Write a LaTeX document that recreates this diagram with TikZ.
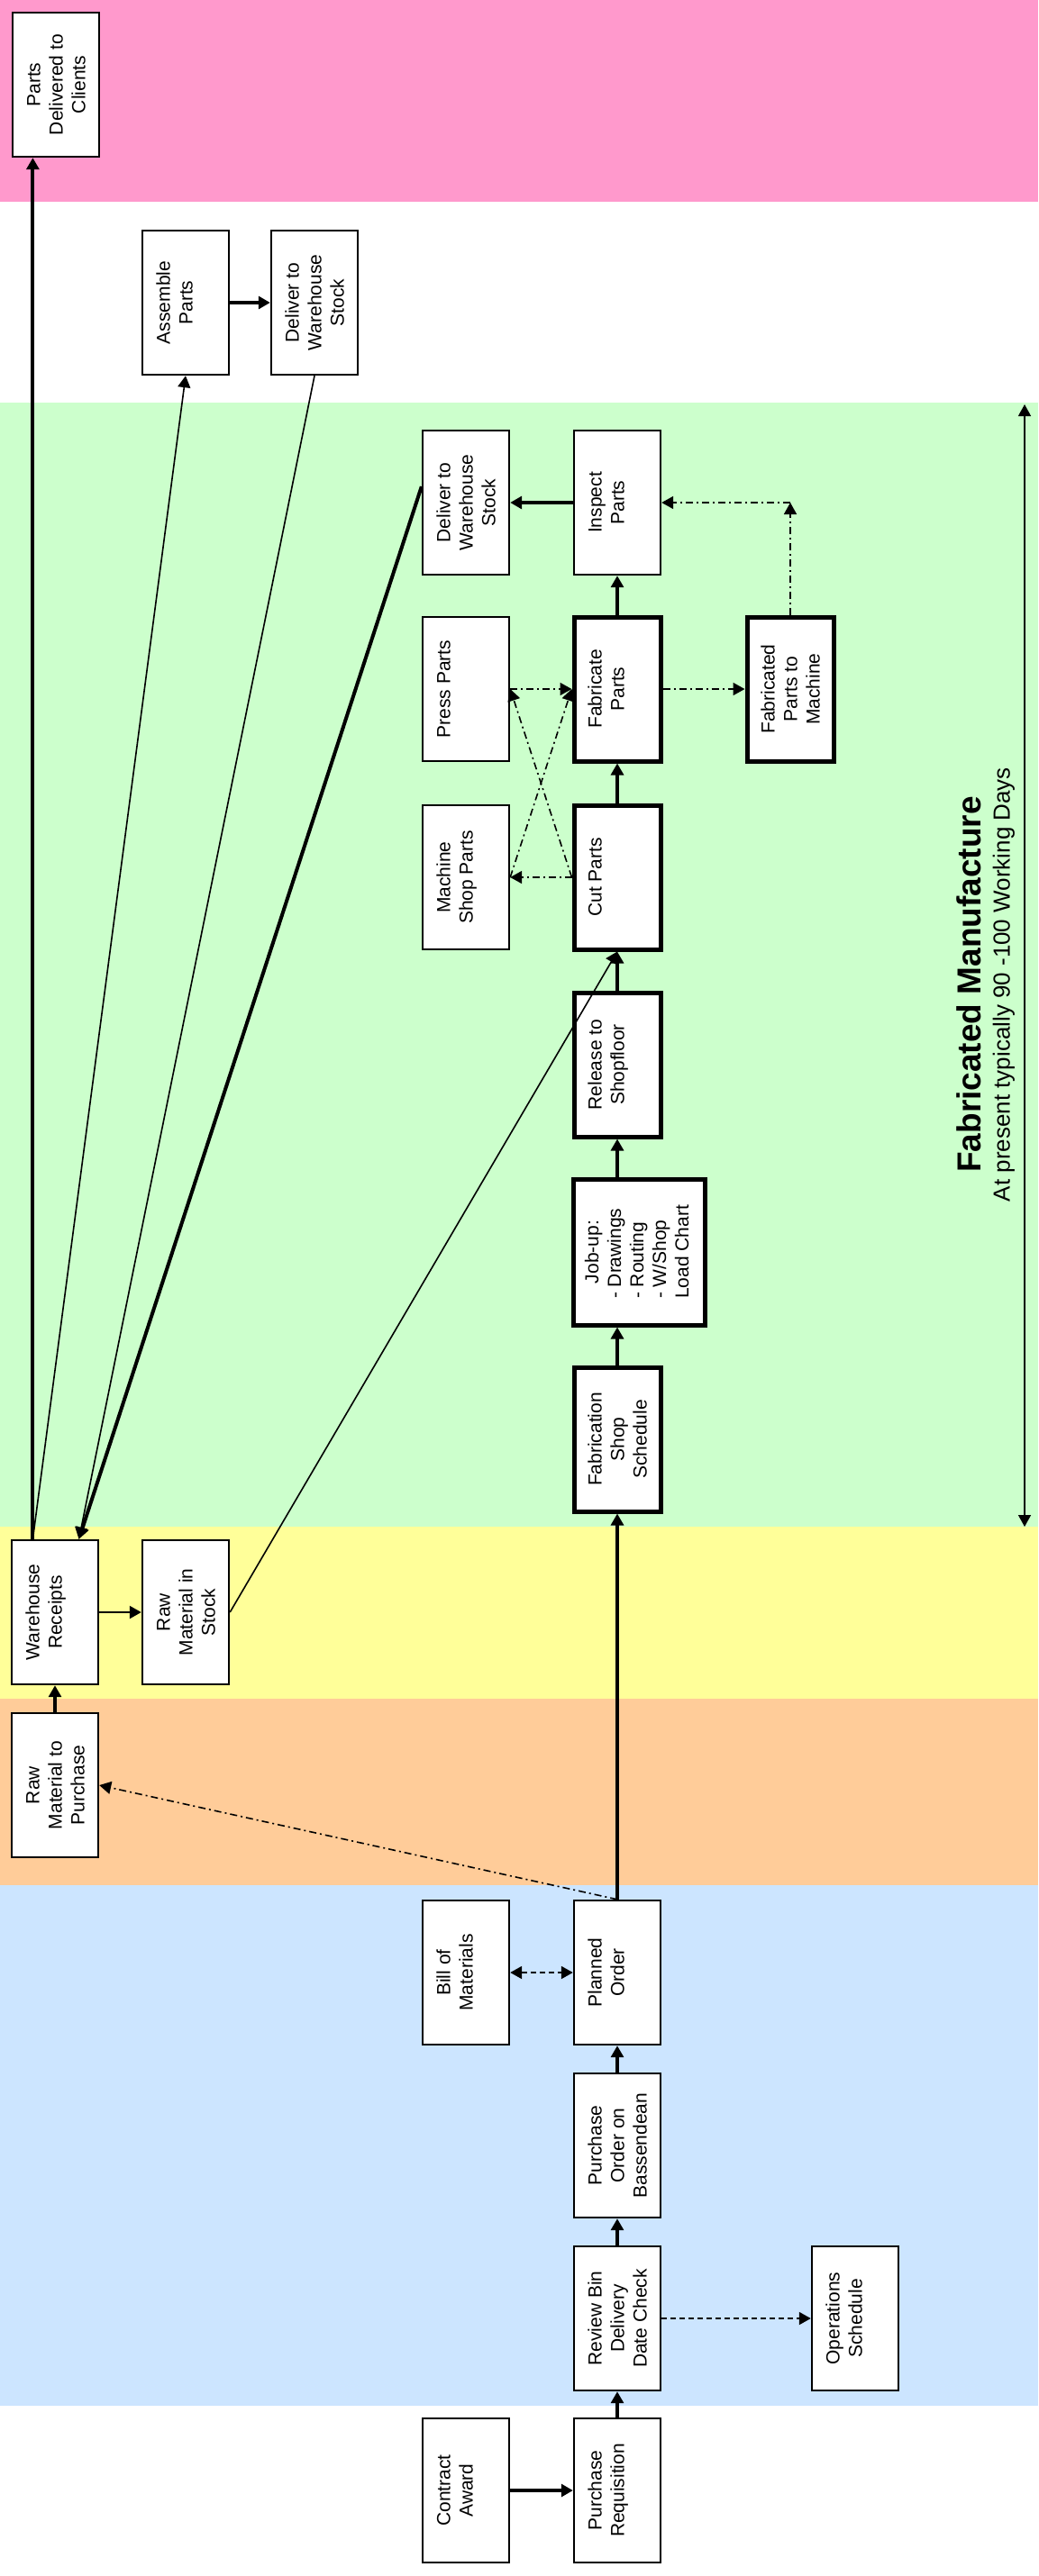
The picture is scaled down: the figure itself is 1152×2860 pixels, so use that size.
\documentclass[tikz,border=0pt]{standalone}
\usepackage{fontspec}
\setmainfont{Liberation Sans}
\usepackage{graphicx}
\usetikzlibrary{arrows.meta,calc,positioning}
\pgfdeclarelayer{background}
\pgfsetlayers{background,main}

\definecolor{bandpink}{HTML}{FF99CC}
\definecolor{bandgreen}{HTML}{CCFFCC}
\definecolor{bandyellow}{HTML}{FFFF99}
\definecolor{bandorange}{HTML}{FFCC99}
\definecolor{bandblue}{HTML}{CCE5FF}

\newcommand{\sidetext}[1]{\rotatebox{90}{\parbox[c][35pt][t]{76pt}{\centering\strut #1}}}

\tikzset{
  stepbox/.style={draw, fill=white, line width=1.2pt, minimum width=48pt, minimum height=80pt, inner sep=0pt},
  keybox/.style={stepbox, line width=2.5pt},
  mainflow/.style={->, line width=1.6pt},
  thinflow/.style={->, line width=0.8pt},
  chainflow/.style={->, line width=0.8pt, dash pattern=on 4pt off 2pt on 1pt off 2pt},
  dashflow/.style={->, line width=1pt, dash pattern=on 3pt off 2pt}
}

\begin{document}
\begin{tikzpicture}[x=0.5pt, y=-0.5pt, >={Triangle[length=6.5pt,width=7pt]}, font=\fontsize{10.5}{12.5}\selectfont]
      \useasboundingbox (0,0) rectangle (1152,2860);

      % stage bands
      \begin{pgfonlayer}{background}
        \fill[white] (0,0) rectangle (1152,2860);
        \fill[bandpink] (0,0) rectangle (1152,224);
        \fill[bandgreen] (0,447) rectangle (1152,1695);
        \fill[bandyellow] (0,1695) rectangle (1152,1886);
        \fill[bandorange] (0,1886) rectangle (1152,2093);
        \fill[bandblue] (0,2093) rectangle (1152,2671);
      \end{pgfonlayer}

      \node (pdc) [stepbox] at (62,94) {\sidetext{Parts\\Delivered to\\Clients}};
      \node (asm) [stepbox] at (206,336) {\sidetext{Assemble\\Parts}};
      \node (dwsA) [stepbox] at (349,336) {\sidetext{Deliver to\\Warehouse\\Stock}};
      \node (dwsB) [stepbox] at (517,558) {\sidetext{Deliver to\\Warehouse\\Stock}};
      \node (insp) [stepbox] at (685,558) {\sidetext{Inspect\\Parts}};
      \node (press) [stepbox] at (517,765) {\sidetext{Press Parts}};
      \node (fab) [keybox] at (685,765) {\sidetext{Fabricate\\Parts}};
      \node (fpm) [keybox] at (877,765) {\sidetext{Fabricated\\Parts to\\Machine}};
      \node (msp) [stepbox] at (517,974) {\sidetext{Machine\\Shop Parts}};
      \node (cut) [keybox] at (685,974) {\sidetext{Cut Parts}};
      \node (rel) [keybox] at (685,1182) {\sidetext{Release to\\Shopfloor}};
      \node (job) [keybox, minimum width=73pt, minimum height=81pt] at (709,1390)
        {\rotatebox{90}{\begin{tabular}{@{}l@{}}\multicolumn{1}{@{}c@{}}{Job-up:}\\- Drawings\\- Routing\\- W/Shop\\Load Chart\end{tabular}}};
      \node (fss) [keybox] at (685,1598) {\sidetext{Fabrication\\Shop\\Schedule}};
      \node (wr) [stepbox] at (61,1790) {\sidetext{Warehouse\\Receipts}};
      \node (rms) [stepbox] at (206,1790) {\sidetext{Raw\\Material in\\Stock}};
      \node (rmp) [stepbox] at (61,1982) {\sidetext{Raw\\Material to\\Purchase}};
      \node (bom) [stepbox] at (517,2190) {\sidetext{Bill of\\Materials}};
      \node (po) [stepbox] at (685,2190) {\sidetext{Planned\\Order}};
      \node (pob) [stepbox] at (685,2382) {\sidetext{Purchase\\Order on\\Bassendean}};
      \node (rev) [stepbox] at (685,2574) {\sidetext{Review Bin\\Delivery\\Date Check}};
      \node (ops) [stepbox] at (949,2574) {\sidetext{Operations\\Schedule}};
      \node (ca) [stepbox] at (517,2765) {\sidetext{Contract\\Award}};
      \node (preq) [stepbox] at (685,2765) {\sidetext{Purchase\\Requisition}};

      \node (title) [rotate=90, inner sep=0pt, font=\fontsize{18.5}{22}\selectfont\bfseries] at (1075,1093) {Fabricated Manufacture};
      \node (subtitle) [rotate=90, inner sep=0pt, font=\fontsize{13}{15}\selectfont] at (1114,1093) {At present typically 90 -100 Working Days};

      \coordinate (wrout) at ($(wr.north west)!0.25!(wr.north east)$);
      \coordinate (wrin) at ($(wr.north west)!0.77!(wr.north east)$);
      \coordinate (dwsout) at ($(dwsB.north west)!0.39!(dwsB.south west)$);
      \coordinate (bend) at (fpm.north |- insp.east);
      \coordinate (spantop) at (1137,449);
      \coordinate (spanbot) at (1137,1695);

      % main route
      \path [mainflow] (preq) edge (rev)
      (rev) edge (pob)
      (pob) edge (po)
      (po) edge (fss)
      (fss.north) edge (fss.north |- job.south)
      (rel.south |- job.north) edge (rel)
      (rel) edge (cut)
      (cut) edge (fab)
      (fab) edge (insp)
      (insp) edge (dwsB)
      (asm) edge (dwsA)
      (rmp) edge (wr);
      \draw [->, line width=2.4pt] (ca) -- (preq);
      \draw [->, line width=2pt] (wrout) -- (wrout |- pdc.south);
      \draw [->, line width=2pt] (dwsout) -- (wrin);
      \draw [->, line width=1.1pt] (wr) -- (rms);

      % thin links
      \draw [thinflow] (wrout) -- (asm.south);
      \draw [thinflow] (dwsA.south) -- (wrin);
      \draw [thinflow] (rms.east) -- (cut.south);

      % side routes
      \draw [chainflow] (cut.west) -- (msp.east);
      \draw [chainflow] (cut.west) -- (press.east);
      \draw [chainflow] (msp.east) -- (fab.west);
      \draw [chainflow] (press.east) -- (fab.west);
      \draw [chainflow] (fab) -- (fpm);
      \draw [chainflow] (fpm.north) -- (bend);
      \draw [chainflow] (bend) -- (insp.east);
      \draw [chainflow] (po.north) -- (rmp.east);
      \draw [dashflow, <->] (bom) -- (po);
      \draw [dashflow] (rev) -- (ops);

      \draw [<->, line width=0.7pt] (spantop) -- (spanbot);
    \end{tikzpicture}
\end{document}
